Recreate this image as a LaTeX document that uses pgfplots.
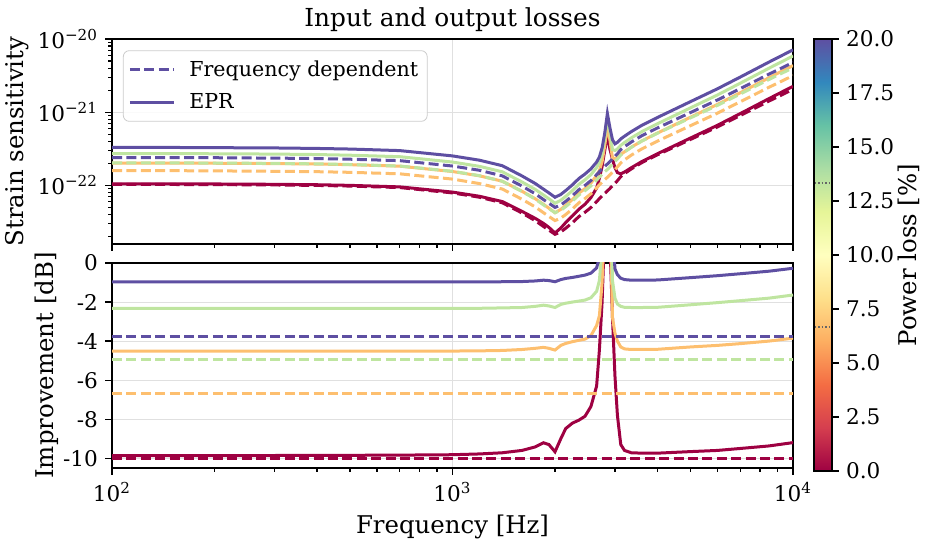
\documentclass[border=0pt]{standalone}
\usepackage{fontspec}
\setmainfont{DejaVu Serif}
\usepackage{pgfplots}
\usepackage{pgfplotstable}
\pgfplotsset{compat=1.18}

\definecolor{cRed}{RGB}{158,1,66}
\definecolor{cOrange}{RGB}{253,191,111}
\definecolor{cGreen}{RGB}{191,229,160}
\definecolor{cPurple}{RGB}{94,79,162}

% Spectral colour scale for the power-loss bar (bottom = 0 %, top = 20 %);
% the useful part of a TikZ shading is its central 25bp..75bp band
\pgfdeclareverticalshading{spectral}{100bp}{%
  rgb(0bp)=(0.620,0.004,0.259); rgb(25bp)=(0.620,0.004,0.259);
  rgb(30bp)=(0.835,0.243,0.310); rgb(35bp)=(0.957,0.427,0.263);
  rgb(40bp)=(0.992,0.682,0.380); rgb(45bp)=(0.996,0.878,0.545);
  rgb(50bp)=(1.000,1.000,0.749); rgb(55bp)=(0.902,0.961,0.596);
  rgb(60bp)=(0.671,0.867,0.643); rgb(65bp)=(0.400,0.761,0.647);
  rgb(70bp)=(0.196,0.533,0.741); rgb(75bp)=(0.369,0.310,0.635);
  rgb(100bp)=(0.369,0.310,0.635)}

% strain sensitivity in units of 1e-22
% rd/rs: 0 % loss, od/os: 6.67 %, gd/gs: 13.33 %, pd/ps: 20 %  (d = frequency dependent, s = EPR)
\pgfplotstableread{
f     rd     rs     od     os     gd     gs     pd     ps
100   1.03   1.05   1.59   2.02   2.03   2.72   2.40   3.30
150   1.03   1.05   1.59   2.02   2.03   2.72   2.40   3.30
200   1.025  1.047  1.58   2.009  2.02   2.706  2.39   3.28
300   1.015  1.036  1.56   1.989  2.00   2.68   2.36   3.25
400   1.0    1.022  1.54   1.96   1.97   2.64   2.33   3.20
500   0.98   1.002  1.51   1.921  1.93   2.587  2.28   3.14
700   0.935  0.955  1.44   1.833  1.84   2.468  2.18   2.99
1000  0.79   0.811  1.22   1.548  1.56   2.086  1.84   2.53
1200  0.69   0.711  1.06   1.352  1.36   1.822  1.61   2.21
1400  0.58   0.602  0.893  1.142  1.14   1.536  1.35   1.86
1600  0.42   0.442  0.647  0.832  0.827  1.115  0.979  1.347
1750  0.33   0.355  0.508  0.658  0.650  0.882  0.769  1.062
1850  0.275  0.303  0.424  0.552  0.542  0.740  0.641  0.889
1920  0.245  0.267  0.377  0.488  0.483  0.657  0.571  0.790
2000  0.215  0.224  0.331  0.424  0.424  0.571  0.501  0.689
2080  0.232  0.262  0.357  0.471  0.457  0.627  0.541  0.753
2150  0.26   0.311  0.400  0.534  0.512  0.708  0.606  0.850
2250  0.31   0.383  0.477  0.643  0.611  0.850  0.722  1.019
2350  0.375  0.472  0.578  0.784  0.739  1.034  0.874  1.241
2450  0.43   0.554  0.662  0.905  0.847  1.193  1.00   1.432
2550  0.50   0.682  0.770  1.075  0.985  1.406  1.165  1.685
2650  0.60   0.923  0.924  1.369  1.18   1.753  1.40   2.085
2700  0.66   1.255  1.02   1.595  1.30   2.054  1.54   2.444
2750  0.72   1.82   1.11   2.117  1.42   2.726  1.68   3.24
2800  0.78   3.00   1.20   3.50   1.54   4.50   1.82   5.20
2850  0.84   5.00   1.29   6.50   1.65   8.30   1.96   9.60
2900  0.91   3.10   1.40   4.10   1.79   5.30   2.12   6.10
2950  0.99   2.28   1.52   2.365  1.95   3.08   2.31   4.21
3000  1.07   1.744  1.65   2.332  2.11   3.00   2.49   3.70
3050  1.16   1.50   1.79   2.414  2.29   3.145  2.70   3.87
3120  1.32   1.438  2.03   2.653  2.60   3.53   3.08   4.32
3200  1.45   1.526  2.23   2.882  2.86   3.855  3.38   4.70
3350  1.68   1.744  2.59   3.327  3.31   4.46   3.91   5.43
3600  2.05   2.122  3.16   4.06   4.04   5.44   4.78   6.63
4000  2.62   2.712  4.03   5.195  5.16   6.96   6.10   8.48
5000  4.25   4.44   6.55   8.55   8.37   11.47  9.90   13.95
6000  6.3    6.63   9.70   12.78  12.4   17.2   14.7   20.9
7000  9.0    9.58   13.9   18.45  17.7   24.9   21.0   30.2
8500  14.2   15.34  21.9   29.55  28.0   39.9   33.1   48.4
10000 20.5   22.6   31.6   43.4   40.4   58.6   47.8   71.1
}\strain

% improvement of the EPR scheme in dB
\pgfplotstableread{
f     r      o      g      p
100   -9.87  -4.52  -2.33  -0.97
150   -9.87  -4.52  -2.33  -0.97
200   -9.86  -4.52  -2.33  -0.97
300   -9.86  -4.52  -2.33  -0.97
400   -9.85  -4.52  -2.33  -0.97
500   -9.85  -4.52  -2.33  -0.97
700   -9.84  -4.52  -2.33  -0.97
1000  -9.82  -4.51  -2.33  -0.97
1200  -9.78  -4.50  -2.32  -0.97
1400  -9.72  -4.48  -2.30  -0.96
1600  -9.60  -4.43  -2.28  -0.95
1750  -9.42  -4.37  -2.22  -0.92
1850  -9.21  -4.32  -2.16  -0.88
1920  -9.30  -4.37  -2.20  -0.90
2000  -9.67  -4.46  -2.28  -0.96
2080  -9.00  -4.22  -2.12  -0.85
2150  -8.48  -4.12  -2.06  -0.79
2250  -8.20  -4.03  -2.00  -0.74
2350  -8.05  -3.96  -1.95  -0.68
2450  -7.85  -3.90  -1.90  -0.62
2550  -7.35  -3.72  -1.78  -0.52
2650  -6.30  -3.20  -1.45  -0.25
2700  -4.46  -2.70  -0.90   0.30
2750  -2.00  -1.00   0.80   2.00
2800   2.00   3.00   5.00   6.00
2850   6.00   8.00  10.00  11.00
2900   1.00   3.00   5.00   6.00
2950  -2.80  -2.80  -0.90   1.50
3000  -5.80  -3.60  -1.80  -0.30
3050  -7.80  -4.00  -2.10  -0.60
3120  -9.30  -4.30  -2.22  -0.78
3200  -9.60  -4.40  -2.27  -0.85
3350  -9.72  -4.43  -2.28  -0.88
3600  -9.74  -4.43  -2.28  -0.88
4000  -9.74  -4.42  -2.27  -0.87
5000  -9.66  -4.30  -2.14  -0.75
6000  -9.60  -4.22  -2.03  -0.65
7000  -9.50  -4.13  -1.93  -0.55
8500  -9.37  -4.00  -1.80  -0.42
10000 -9.20  -3.85  -1.64  -0.27
}\improve

\tikzset{
  fd/.style={line width=1.5pt, dash pattern=on 5pt off 2.2pt},
  epr/.style={line width=1.5pt},
}

\begin{document}
\begin{tikzpicture}
\path[use as bounding box] (0,0) rectangle (467pt,-272.5pt);

\begin{axis}[
  scale only axis, width=340.5pt, height=102.5pt,
  at={(56pt,-19.5pt)}, anchor=north west,
  xmode=log, xmin=100, xmax=10000,
  ymode=log, ymin=0.1585, ymax=100,
  xtick={100,1000,10000},
  minor xtick={200,300,400,500,600,700,800,900,2000,3000,4000,5000,6000,7000,8000,9000},
  xticklabels={,,},
  ytick={1,10,100},
  yticklabels={10\textsuperscript{−22},10\textsuperscript{−21},10\textsuperscript{−20}},
  minor ytick={0.2,0.3,0.4,0.5,0.6,0.7,0.8,0.9,2,3,4,5,6,7,8,9,20,30,40,50,60,70,80,90},
  xtick pos=bottom, ytick pos=left,
  axis line style={line width=0.8pt},
  tick style={black, line width=0.6pt},
  major tick length=3.5pt, minor tick length=2pt,
  tick align=outside,
  grid=major, major grid style={black!12, line width=0.4pt},
  tick label style={font=\fontsize{10.8}{13}\selectfont},
  label style={font=\fontsize{12.2}{15}\selectfont},
  ylabel shift=-2.5pt,
  title={Input and output losses},
  title style={font=\fontsize{12.4}{15}\selectfont, yshift=-6pt},
  ylabel={Strain sensitivity},
  legend style={at={(axis description cs:0.016,0.945)}, anchor=north west,
    draw=black!20, rounded corners=3pt, fill=white, fill opacity=0.85, text opacity=1,
    font=\fontsize{10.3}{12.5}\selectfont, inner xsep=2.5pt, inner ysep=3pt, row sep=3pt},
  legend cell align=left,
  legend image code/.code={\draw[#1] (0pt,0pt) -- (22pt,0pt);},
]
\addlegendimage{cPurple, fd}\addlegendentry{\hspace*{5pt}Frequency dependent}
\addlegendimage{cPurple, epr}\addlegendentry{\hspace*{5pt}EPR}

\addplot[cRed, fd, forget plot] table[x=f, y=rd] {\strain};
\addplot[cRed, epr, forget plot] table[x=f, y=rs] {\strain};
\addplot[cOrange, fd, forget plot] table[x=f, y=od] {\strain};
\addplot[cOrange, epr, forget plot] table[x=f, y=os] {\strain};
\addplot[cGreen, fd, forget plot] table[x=f, y=gd] {\strain};
\addplot[cGreen, epr, forget plot] table[x=f, y=gs] {\strain};
\addplot[cPurple, fd, forget plot] table[x=f, y=pd] {\strain};
\addplot[cPurple, epr, forget plot] table[x=f, y=ps] {\strain};
\end{axis}

\begin{axis}[
  scale only axis, width=340.5pt, height=102.5pt,
  at={(56pt,-131.5pt)}, anchor=north west,
  xmode=log, xmin=100, xmax=10000,
  ymin=-10.5, ymax=0,
  xtick={100,1000,10000},
  minor xtick={200,300,400,500,600,700,800,900,2000,3000,4000,5000,6000,7000,8000,9000},
  xticklabels={10\textsuperscript{2},10\textsuperscript{3},10\textsuperscript{4}},
  ytick={-10,-8,-6,-4,-2,0},
  yticklabels={-10,-8,-6,-4,-2,0},
  xtick pos=bottom, ytick pos=left,
  axis line style={line width=0.8pt},
  tick style={black, line width=0.6pt},
  major tick length=3.5pt, minor tick length=2pt,
  tick align=outside,
  grid=major, major grid style={black!12, line width=0.4pt},
  tick label style={font=\fontsize{10.8}{13}\selectfont},
  label style={font=\fontsize{12.2}{15}\selectfont},
  ylabel shift=-4.5pt,
  xlabel={Frequency [Hz]},
  ylabel={Improvement [dB]},
]
\addplot[cRed, fd] coordinates {(100,-10.0) (10000,-10.0)};
\addplot[cRed, epr] table[x=f, y=r] {\improve};
\addplot[cOrange, fd] coordinates {(100,-6.68) (10000,-6.68)};
\addplot[cOrange, epr] table[x=f, y=o] {\improve};
\addplot[cGreen, fd] coordinates {(100,-4.92) (10000,-4.92)};
\addplot[cGreen, epr] table[x=f, y=g] {\improve};
\addplot[cPurple, fd] coordinates {(100,-3.76) (10000,-3.76)};
\addplot[cPurple, epr] table[x=f, y=p] {\improve};
\end{axis}

% colour bar for the power loss
\begin{axis}[
  scale only axis, width=9pt, height=216pt,
  at={(407pt,-19.5pt)}, anchor=north west,
  xmin=0, xmax=1, ymin=0, ymax=20,
  xtick=\empty,
  ytick={0,2.5,5,7.5,10,12.5,15,17.5,20},
  yticklabels={0.0,2.5,5.0,7.5,10.0,12.5,15.0,17.5,20.0},
  ytick pos=right, yticklabel pos=right,
  axis line style={line width=0.8pt},
  tick style={black, line width=0.6pt},
  major tick length=3.5pt, tick align=outside,
  tick label style={font=\fontsize{10.8}{13}\selectfont},
  label style={font=\fontsize{12.2}{15}\selectfont},
  ylabel shift=-5pt,
  ylabel={Power loss [\%]},
  axis on top,
]
\fill[shading=spectral] (rel axis cs:0,0) rectangle (rel axis cs:1,1);
\draw[densely dotted, black!60, line width=0.7pt]
  (axis cs:0.05,6.667) -- (axis cs:0.9,6.667)
  (axis cs:0.05,13.333) -- (axis cs:0.9,13.333);
\end{axis}
\end{tikzpicture}
\end{document}
